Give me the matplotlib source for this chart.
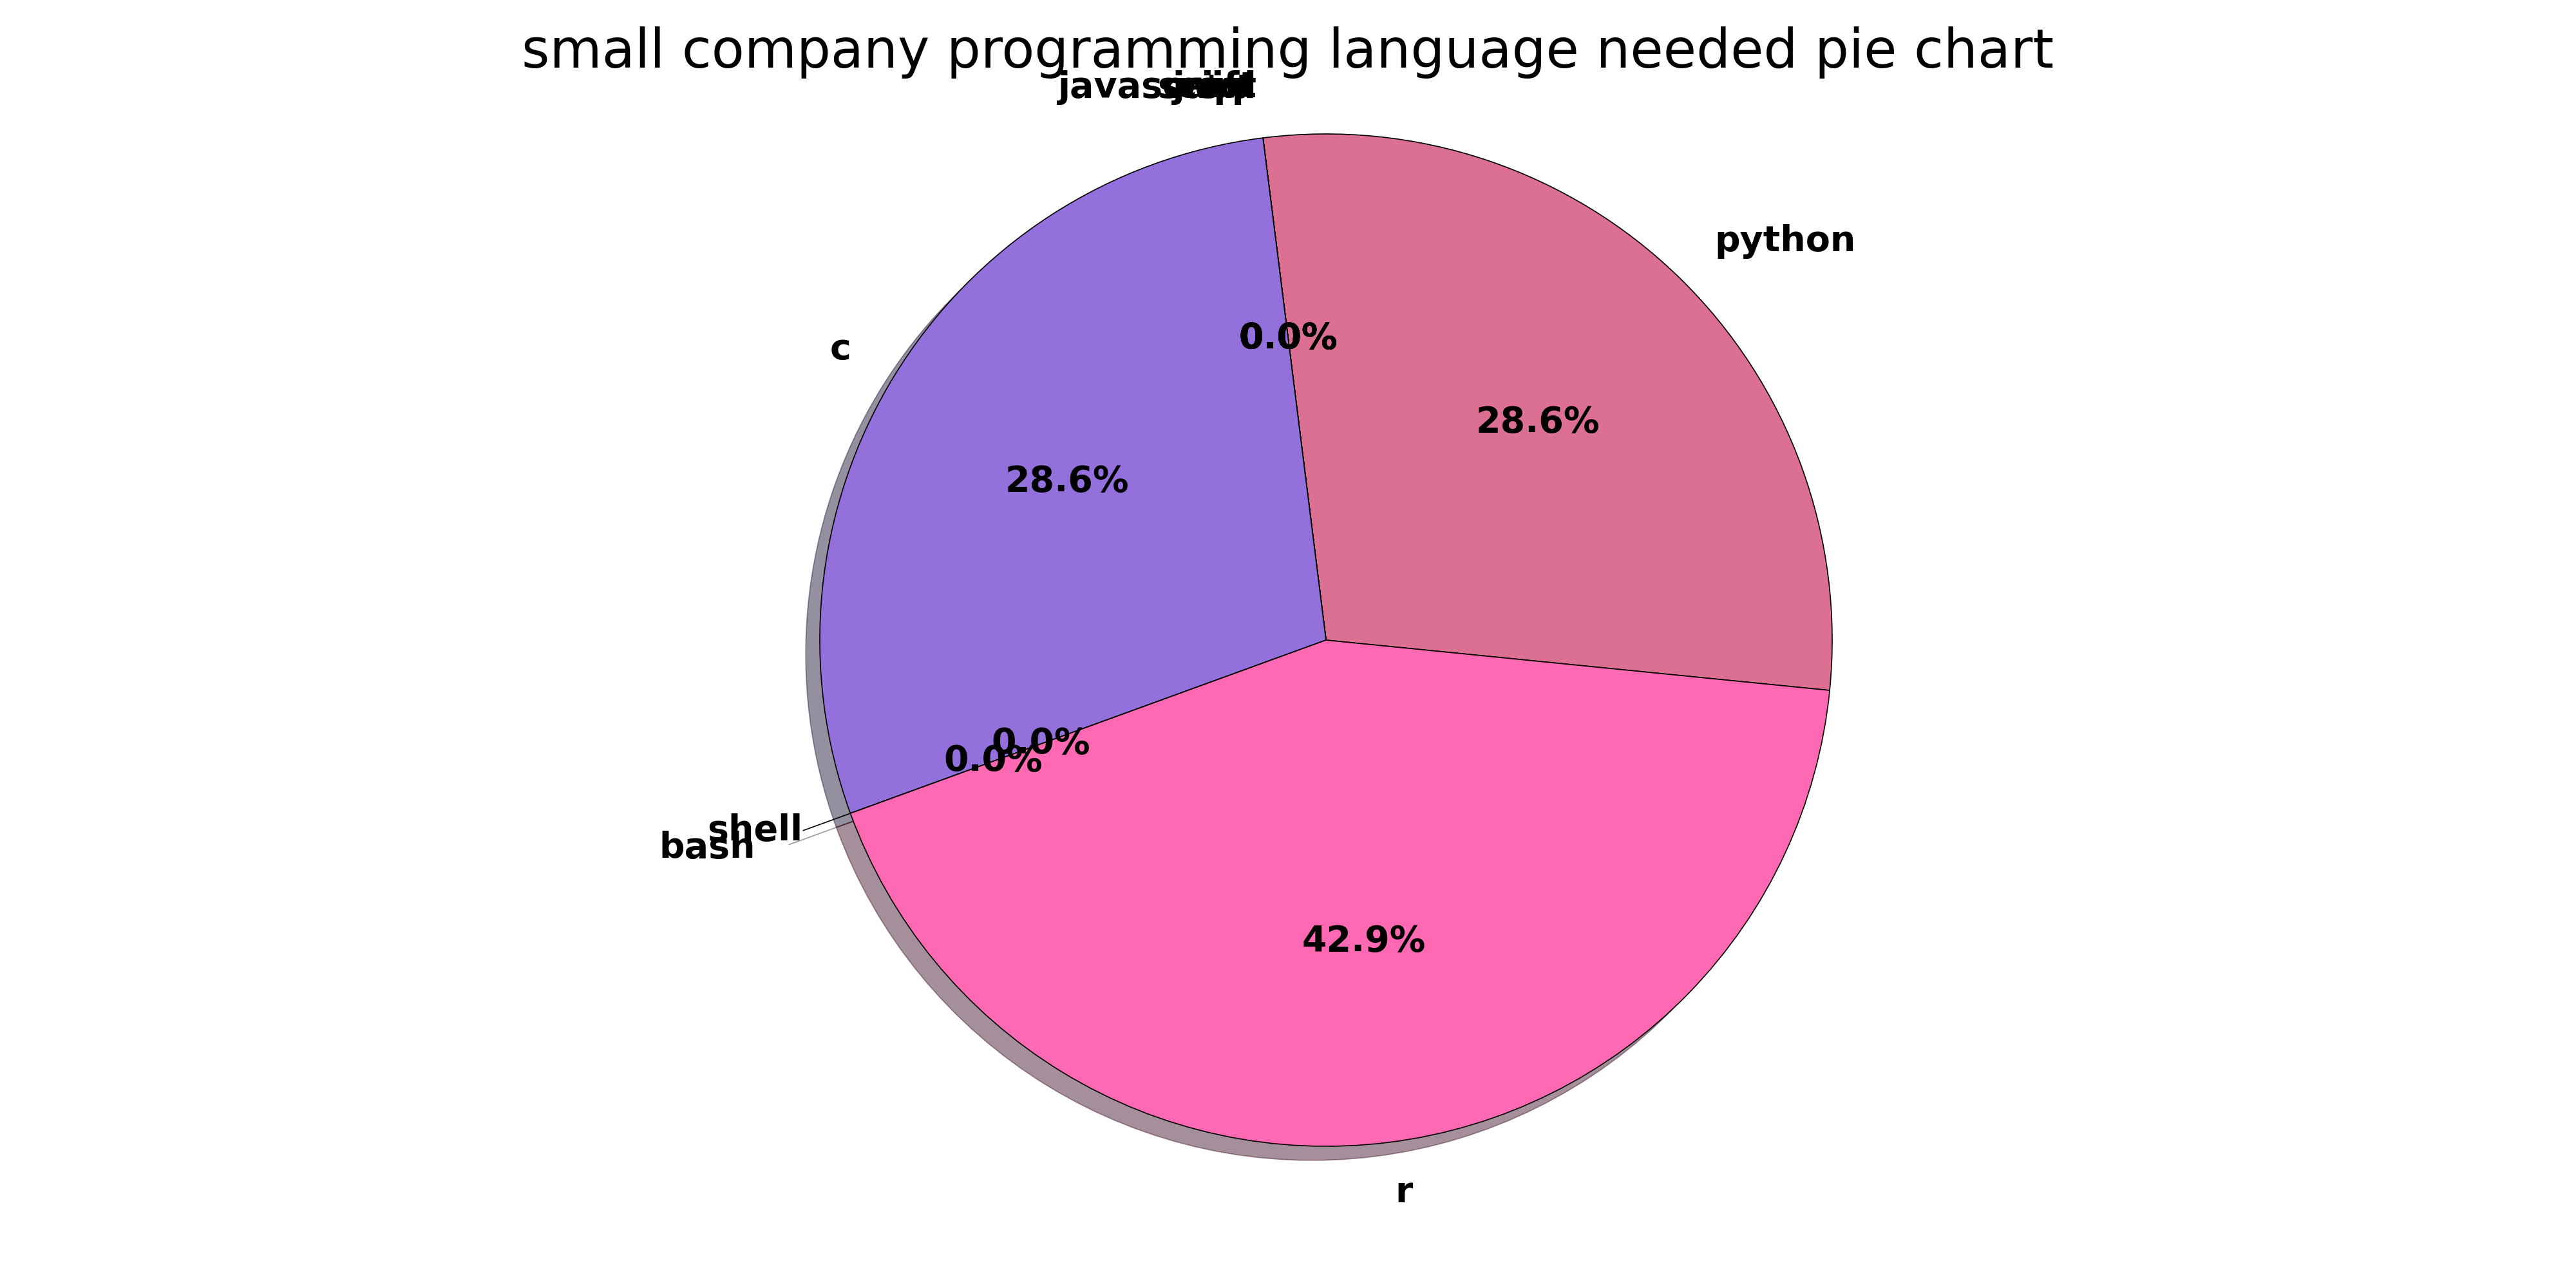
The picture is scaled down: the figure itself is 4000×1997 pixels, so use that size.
import matplotlib
matplotlib.use("Agg")
import matplotlib.pyplot as plt

languages = ["python", "javascript", "java", "sql", "c++", "swift", "c", "shell", "bash", "r"]
needed = [2, 0, 0, 0, 0, 0, 2, 0, 0, 3]
explode = [0, 0, 0, 0, 0, 0, 0, 0, 0.1, 0]
colors = ["palevioletred", "gold", "orange", "skyblue", "lightgreen", "tomato",
          "mediumpurple", "silver", "tan", "hotpink"]

fig = plt.figure(figsize=(20, 9.985), dpi=200)
ax = fig.add_axes([0, 0, 1, 1])

ax.pie(needed, labels=languages, colors=colors, explode=explode,
       autopct="%1.1f%%", shadow={"ox": -0.01, "oy": -0.01}, startangle=-5.7,
       wedgeprops={"edgecolor": "black", "linewidth": 0.6},
       textprops={"fontsize": 20, "fontweight": "bold"})

# pie centre at (2059, 994) px, radius 786 px
px = 786
ax.set_aspect("auto")
ax.set_xlim(-2059 / px, (4000 - 2059) / px)
ax.set_ylim(-(1997 - 994) / px, 994 / px)
ax.axis("off")

fig.text(0.5, 1 - 105 / 1997, "small company programming language needed pie chart",
         fontsize=30, ha="center", va="baseline")

fig.savefig("out.png", dpi=200)
